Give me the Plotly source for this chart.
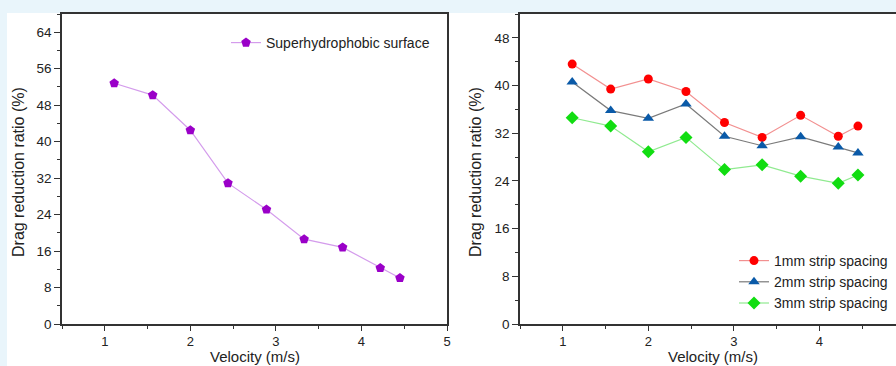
import plotly.graph_objects as go

velocity = [1.11, 1.56, 2.00, 2.44, 2.89, 3.33, 3.78, 4.22, 4.45]
superhydrophobic = [52.8, 50.2, 42.5, 30.9, 25.1, 18.6, 16.8, 12.3, 10.1]
strip_1mm = [43.6, 39.4, 41.1, 39.0, 33.8, 31.3, 35.0, 31.5, 33.2]
strip_2mm = [40.6, 35.8, 34.5, 36.9, 31.5, 29.9, 31.4, 29.7, 28.7]
strip_3mm = [34.6, 33.2, 28.9, 31.3, 25.9, 26.7, 24.8, 23.6, 25.0]

W, H = 896, 366
FONT = "Liberation Sans, Arial, sans-serif"
TXT = "#222222"
AX = "#333333"

fig = go.Figure()

fig.add_trace(go.Scatter(
    x=velocity, y=superhydrophobic, mode="lines+markers", name="Superhydrophobic surface",
    line=dict(color="#d49cec", width=1.2),
    marker=dict(symbol="pentagon", size=10, color="#9a00c8"),
    xaxis="x", yaxis="y", legend="legend"))

fig.add_trace(go.Scatter(
    x=velocity, y=strip_1mm, mode="lines+markers", name="1mm strip spacing",
    line=dict(color="#f29090", width=1.2),
    marker=dict(symbol="circle", size=9, color="#ff0000"),
    xaxis="x2", yaxis="y2", legend="legend2"))
fig.add_trace(go.Scatter(
    x=velocity, y=strip_2mm, mode="lines+markers", name="2mm strip spacing",
    line=dict(color="#7a7a7a", width=1.2),
    marker=dict(symbol="triangle-up", size=10, color="#0a5aa8"),
    xaxis="x2", yaxis="y2", legend="legend2"))
fig.add_trace(go.Scatter(
    x=velocity, y=strip_3mm, mode="lines+markers", name="3mm strip spacing",
    line=dict(color="#90ea90", width=1.2),
    marker=dict(symbol="diamond", size=10, color="#11dd11"),
    xaxis="x2", yaxis="y2", legend="legend2"))

ydom = [(H - 324) / H, (H - 14) / H]

common_axis = dict(
    showline=True, linecolor=AX, linewidth=1.5, showgrid=False, zeroline=False,
    ticks="outside", tickwidth=1.2, tickcolor=AX, automargin=False,
)
yfont = dict(family=FONT, size=13.5, color=TXT)
xfont = dict(family=FONT, size=13, color=TXT)

fig.update_layout(
    width=W, height=H,
    margin=dict(l=0, r=0, t=0, b=0),
    paper_bgcolor="#e9f5fb",
    plot_bgcolor="white",
    font=dict(family=FONT, color=TXT),
    xaxis=dict(domain=[62 / W, 447 / W], range=[0.5, 5], dtick=1, tick0=0, mirror=True, ticklen=5,
               minor=dict(dtick=0.5, ticklen=3, tickcolor=AX, ticks="outside"),
               ticklabelstandoff=0, anchor="y", tickfont=xfont, **common_axis),
    yaxis=dict(domain=ydom, range=[0, 68], dtick=8, tick0=0, mirror=True, ticklen=6,
               minor=dict(dtick=4, ticklen=3, tickcolor=AX, ticks="outside"),
               anchor="x", tickfont=yfont, **common_axis),
    xaxis2=dict(domain=[520 / W, 1.0], range=[0.5, 0.5 + 376 / 85.56], dtick=1, tick0=0, mirror=True,
                ticklen=5, minor=dict(dtick=0.5, ticklen=3, tickcolor=AX, ticks="outside"),
                ticklabelstandoff=0, anchor="y2", tickfont=xfont, **common_axis),
    yaxis2=dict(domain=ydom, range=[0, 52], dtick=8, tick0=0, mirror=False, ticklen=6,
                minor=dict(dtick=4, ticklen=3, tickcolor=AX, ticks="outside"),
                anchor="x2", tickfont=yfont, **common_axis),
    legend=dict(x=226 / W, y=1 - 27 / H, xanchor="left", yanchor="top",
                bgcolor="rgba(0,0,0,0)", font=dict(family=FONT, size=14, color=TXT)),
    legend2=dict(x=734 / W, y=1 - 245 / H, xanchor="left", yanchor="top",
                 bgcolor="rgba(0,0,0,0)", font=dict(family=FONT, size=14, color=TXT),
                 tracegroupgap=0),
    showlegend=True,
    shapes=[dict(type="rect", xref="paper", yref="paper", x0=7 / W, x1=1.0, y0=0, y1=1 - 13 / H,
                 fillcolor="white", line=dict(width=0), layer="below")],
    annotations=[
        dict(text="Drag reduction ratio (%)", textangle=-90, xref="paper", yref="paper",
             x=18 / W, y=1 - 172 / H, xanchor="center", yanchor="middle", showarrow=False,
             font=dict(family=FONT, size=16, color=TXT)),
        dict(text="Drag reduction ratio (%)", textangle=-90, xref="paper", yref="paper",
             x=475 / W, y=1 - 172 / H, xanchor="center", yanchor="middle", showarrow=False,
             font=dict(family=FONT, size=16, color=TXT)),
        dict(text="Velocity (m/s)", xref="paper", yref="paper",
             x=255 / W, y=0, xanchor="center", yanchor="bottom", showarrow=False, borderpad=0,
             font=dict(family=FONT, size=15, color=TXT)),
        dict(text="Velocity (m/s)", xref="paper", yref="paper",
             x=713 / W, y=0, xanchor="center", yanchor="bottom", showarrow=False, borderpad=0,
             font=dict(family=FONT, size=15, color=TXT)),
    ],
)

fig.write_html("out.html")
